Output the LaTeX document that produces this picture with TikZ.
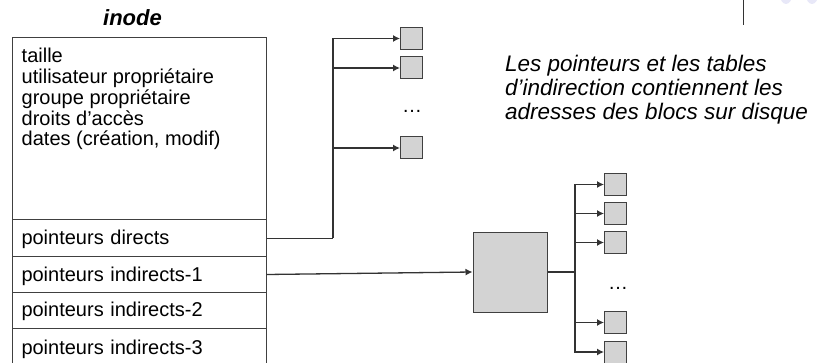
\documentclass[tikz,border=0pt]{standalone}
\usepackage{fontspec}
\setmainfont{Liberation Sans}
\usetikzlibrary{arrows.meta}
\definecolor{blockfill}{RGB}{211,211,211}
\definecolor{blockdraw}{RGB}{64,64,64}
\definecolor{lav}{RGB}{232,232,248}
\tikzset{
  body/.style={font=\fontsize{20}{20.7}\selectfont, inner sep=0pt, anchor=base west},
  note/.style={font=\fontsize{22.5}{24}\selectfont\itshape, inner sep=0pt, anchor=base west},
  rowbox/.style={draw=black!75, line width=1pt, minimum width=254pt, inner sep=0pt},
  rowtext/.style={font=\fontsize{20}{20.7}\selectfont, text width=235pt, align=left, text height=17pt, text depth=4pt},
  block/.style={draw=blockdraw, fill=blockfill, line width=1pt, minimum size=22pt, inner sep=0pt},
  conn/.style={draw=black!80, line width=1.3pt},
  arr/.style={conn, -{Latex[length=7pt,width=7pt]}},
  dots/.style={font=\fontsize{20}{20}\selectfont, inner sep=0pt, anchor=base}
}
\begin{document}
\begin{tikzpicture}[x=1pt,y=-1pt]
\useasboundingbox (0,0) rectangle (818,363);
\clip (0,0) rectangle (818,363);

% slide artefacts at top right
\draw[black!80, line width=1pt] (743,0) -- (743,25);
\fill[lav] (786,-5) ellipse (6 and 9);
\fill[lav] (812,-5) ellipse (6 and 9);

% title
\node[font=\fontsize{22}{22}\selectfont\bfseries\itshape, inner sep=0pt, anchor=base] (title) at (132.5,26) {inode};

% inode
\node[rowbox, minimum height=182pt] (main) at (139,129) {};
\node[body] (l1) at (21.5,63) {taille};
\node[body] (l2) at (21.5,83.7) {utilisateur propriétaire};
\node[body] (l3) at (21.5,104.4) {groupe propriétaire};
\node[body] (l4) at (21.5,125.1) {droits d’accès};
\node[body] (l5) at (21.5,145.8) {dates (création, modif)};

\node[rowbox, rowtext, minimum height=36.5pt] (dir)  at (139,238.25) {pointeurs directs};
\node[rowbox, rowtext, minimum height=36pt]   (ind1) at (139,274.5)  {pointeurs indirects-1};
\node[rowbox, rowtext, minimum height=35.5pt] (ind2) at (139,310.25) {pointeurs indirects-2};
\node[rowbox, rowtext, minimum height=40pt]   (ind3) at (139,348)    {pointeurs indirects-3};

% note
\node[note] (n1) at (505,72) {Les pointeurs et les tables};
\node[note] (n2) at (505,96) {d’indirection contiennent les};
\node[note] (n3) at (505,120) {adresses des blocs sur disque};

% direct blocks
\node[block] (b1) at (411.5,38.5) {};
\node[block] (b2) at (411.5,68) {};
\node[block] (b3) at (411.5,148) {};
\node[dots] (d1) at (412,112.5) {…};
\coordinate (jd) at (333,238.25);
\draw[conn] (dir.east) -- (jd);
\draw[arr] (jd) |- (b1.west);
\draw[arr] (jd) |- (b2.west);
\draw[arr] (jd) |- (b3.west);

% single indirect
\node[block, minimum width=74pt, minimum height=80pt] (big) at (510,272) {};
\draw[arr] (ind1.east) -- (big.west);
\coordinate (ji) at (575,272);
\draw[conn] (big.east) -- (ji);
\node[block] (c1) at (615.5,184.5) {};
\node[block] (c2) at (615.5,213.5) {};
\node[block] (c3) at (615.5,242.5) {};
\node[block] (c4) at (615.5,322.5) {};
\node[block] (c5) at (615.5,352) {};
\node[dots] (d2) at (618,289) {…};
\draw[arr] (ji) |- (c1.west);
\draw[arr] (ji) |- (c2.west);
\draw[arr] (ji) |- (c3.west);
\draw[arr] (ji) |- (c4.west);
\draw[arr] (ji) |- (c5.west);
\end{tikzpicture}
\end{document}
